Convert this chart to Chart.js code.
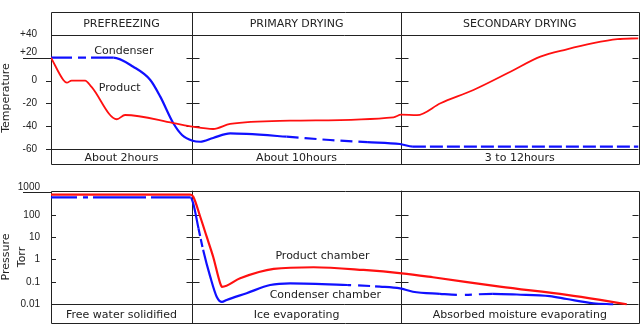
<!DOCTYPE html>
<html>
<head>
<meta charset="utf-8">
<script src="https://cdn.jsdelivr.net/npm/chart.js@4/dist/chart.umd.min.js"></script>
<style>
    html, body { margin: 0; padding: 0; background: #fff; }
    #wrap { position: relative; width: 640px; height: 336px; }
    canvas { position: absolute; left: 0; }
    #graficoTemp { top: 0; }
    #graficoPres { top: 168px; }
</style>
</head>
<body>
<div id="wrap">
    <canvas id="graficoTemp" width="640" height="168"></canvas>
    <canvas id="graficoPres" width="640" height="168"></canvas>
</div>
<script>
// time runs 0..100 over the whole cycle, phase limits
const phaseLimits = [0, 24, 59.6, 100];
const phaseNames = ['PREFREEZING', 'PRIMARY DRYING', 'SECONDARY DRYING'];
const phaseTimes = ['About 2hours', 'About 10hours', '3 to 12hours'];
const phaseNotes = ['Free water solidified', 'Ice evaporating', 'Absorbed moisture evaporating'];

const tempTicks = [-60, -40, -20, 0, 20, 40];
const tempTickLabels = ['-60', '-40', '-20', '0', '+20', '+40'];
const presTicks = [0.01, 0.1, 1, 10, 100, 1000];
const presTickLabels = ['0.01', '0.1', '1', '10', '100', '1000'];

// temperature (deg C)
const productX = [0, 2.1, 2.7, 3.5, 5.8, 6.9, 11.2, 12.6, 20.8, 24.1, 27.6, 30.5, 40.7, 58.3, 59.6, 62.3, 66.3, 71.9, 78.2, 83.3, 87.8, 92.3, 96.4, 100];
const productTemp = [20, 0.5, -1.9, 0, 0, -5.6, -33.7, -30, -37, -40.2, -42.2, -37.8, -35, -32, -29.7, -30.2, -19.8, -8.2, 7.7, 20.8, 27.2, 32.5, 36, 36.8];
const condenserX = [0, 10.6, 14, 16.9, 18.6, 20.8, 22.3, 24.1, 25.4, 27.6, 30.5, 33.3, 40.1, 47.5, 53.8, 59.4, 61.6, 100];
const condenserTemp = [20, 20, 12, 0.5, -14, -37, -47.4, -52.4, -53.3, -50, -46, -46.5, -48.9, -51.8, -53.6, -55.3, -57.6, -57.6];

// pressure (Torr)
const chamberX = [0, 23.7, 24.2, 25.4, 26.5, 27.6, 28.8, 29.1, 32.2, 37.9, 44.7, 53.2, 59.7, 65, 76.4, 87.8, 93.5, 98];
const chamberPres = [800, 800, 650, 82, 10.5, 1.33, 0.086, 0.06, 0.145, 0.38, 0.45, 0.34, 0.24, 0.16, 0.061, 0.026, 0.0155, 0.0099];
const condChamberX = [0, 23.7, 24.2, 25.1, 25.9, 27.1, 28.2, 29.1, 29.9, 33.3, 37.3, 40.7, 50.4, 56, 59.4, 61.6, 66.2, 69.6, 75.2, 79.3, 84.9, 87.8, 92.3, 95.7];
const condChamberPres = [600, 600, 328, 25, 2.66, 0.17, 0.0216, 0.0126, 0.0155, 0.031, 0.072, 0.086, 0.072, 0.061, 0.051, 0.036, 0.029, 0.026, 0.029, 0.027, 0.023, 0.017, 0.011, 0.0099];

const ink = '#222';
const red = '#ff1010';
const blue = '#1010ff';
const textFont = '11px "DejaVu Sans"';

function pts(xs, ys) {
    return xs.map((x, i) => ({ x: x, y: ys[i] }));
}

// broken-line look of the condenser curves, by time range
function dashes(spans) {
    return ctx => {
        const x = ctx.p0.parsed.x;
        for (const s of spans) {
            if (x >= s[0] && x < s[1]) return s[2];
        }
        return [];
    };
}

function frame(cfg) {
    return {
        id: 'frame' + cfg.name,
        beforeDatasetsDraw(chart) {
            const { ctx, chartArea: a, scales: { x, y } } = chart;
            const r = v => Math.round(v) + 0.5;
            const dividers = phaseLimits.slice(1, -1).map(p => r(x.getPixelForValue(p)));
            ctx.save();
            ctx.strokeStyle = ink;
            ctx.lineWidth = 1;
            ctx.beginPath();
            ctx.rect(r(a.left), r(a.top), Math.round(a.right) - Math.round(a.left), Math.round(a.bottom) - Math.round(a.top));
            cfg.rules.forEach(v => {
                const yy = r(y.getPixelForValue(v));
                ctx.moveTo(a.left, yy);
                ctx.lineTo(a.right, yy);
            });
            dividers.forEach(xx => {
                ctx.moveTo(xx, a.top);
                ctx.lineTo(xx, a.bottom);
            });
            cfg.marks.forEach(v => {
                const yy = r(y.getPixelForValue(v));
                dividers.forEach(xx => {
                    ctx.moveTo(xx - 6, yy);
                    ctx.lineTo(xx + 7, yy);
                });
                ctx.moveTo(a.right - 6, yy);
                ctx.lineTo(a.right, yy);
            });
            cfg.leftMarks.forEach(v => {
                const yy = r(y.getPixelForValue(v));
                ctx.moveTo(a.left + cfg.leftTick, yy);
                ctx.lineTo(a.left, yy);
            });
            const uy = r(y.getPixelForValue(cfg.underline));
            ctx.moveTo(a.left - 28, uy);
            ctx.lineTo(a.left, uy);
            ctx.stroke();

            ctx.fillStyle = ink;
            ctx.font = textFont;
            ctx.textAlign = 'center';
            ctx.textBaseline = 'middle';
            const cols = phaseLimits.slice(0, -1).map((p, i) =>
                (x.getPixelForValue(p) + x.getPixelForValue(phaseLimits[i + 1])) / 2);
            if (cfg.header) {
                const hy = (a.top + y.getPixelForValue(cfg.rules[0])) / 2 + 1;
                cfg.header.forEach((t, i) => ctx.fillText(t, cols[i], hy));
            }
            const fy = (y.getPixelForValue(cfg.rules[cfg.rules.length - 1]) + a.bottom) / 2 + 1;
            cfg.footer.forEach((t, i) => ctx.fillText(t, cols[i], fy));
            cfg.notes.forEach(n => ctx.fillText(n.text, x.getPixelForValue(n.x), y.getPixelForValue(n.y)));

            const ty = (a.top + a.bottom) / 2 + cfg.titleShift;
            cfg.title.forEach((t, i) => {
                ctx.save();
                ctx.translate(6 + i * 16, ty);
                ctx.rotate(-Math.PI / 2);
                ctx.fillText(t, 0, 0);
                ctx.restore();
            });
            ctx.restore();
        }
    };
}

function yAxis(extra) {
    return Object.assign({
        grid: { display: false },
        border: { display: false },
        afterFit: s => { s.width = 51; s.paddingTop = 0; s.paddingBottom = 0; }
    }, extra);
}

const common = {
    responsive: false,
    animation: false,
    devicePixelRatio: 1,
    events: [],
    plugins: { legend: { display: false }, tooltip: { enabled: false } },
    elements: { point: { radius: 0 }, line: { cubicInterpolationMode: 'monotone' } }
};

let ctx = document.getElementById('graficoTemp').getContext('2d');
const graficoTemp = new Chart(ctx, {
    type: 'line',
    data: {
        datasets: [{
            label: 'Product',
            data: pts(productX, productTemp),
            borderColor: red,
            borderWidth: 1.8
        }, {
            label: 'Condenser',
            data: pts(condenserX, condenserTemp),
            borderColor: blue,
            borderWidth: 2.2,
            segment: {
                borderDash: dashes([[0, 10.6, [21, 6, 8, 5, 100, 0]], [40.1, 53.8, [12, 6]], [61.6, 101, [13, 4]]])
            }
        }]
    },
    options: Object.assign({}, common, {
        layout: { padding: { top: 12, bottom: 4, left: 0, right: 1.5 } },
        scales: {
            x: { type: 'linear', min: 0, max: 100, display: false },
            y: yAxis({
                type: 'linear',
                min: -72.7,
                max: 59.7,
                afterBuildTicks: s => { s.ticks = tempTicks.map(v => ({ value: v })); },
                ticks: {
                    padding: 6,
                    color: ink,
                    font: { family: 'Liberation Sans', size: 10, lineHeight: 1 },
                    callback: (v, i) => v === 20 ? [tempTickLabels[i], ''] : tempTickLabels[i]
                }
            })
        }
    }),
    plugins: [frame({
        name: 'Temp',
        rules: [40, -60],
        marks: [20, 0, -20, -40],
        leftMarks: [0, -20, -40, -60],
        leftTick: -5,
        underline: 20,
        header: phaseNames,
        footer: phaseTimes,
        notes: [{ text: 'Condenser', x: 12.4, y: 25.7 }, { text: 'Product', x: 11.7, y: -6.3 }],
        title: ['Temperature'],
        titleShift: 10
    })]
});

ctx = document.getElementById('graficoPres').getContext('2d');
const graficoPres = new Chart(ctx, {
    type: 'line',
    data: {
        datasets: [{
            label: 'Product chamber',
            data: pts(chamberX, chamberPres),
            borderColor: red,
            borderWidth: 2.2
        }, {
            label: 'Condenser chamber',
            data: pts(condChamberX, condChamberPres),
            borderColor: blue,
            borderWidth: 2.2,
            segment: {
                borderDash: dashes([[0, 23.7, [26, 6, 5, 5, 53, 5, 60, 0]], [25.1, 25.9, [8, 3]], [50.4, 56, [4, 7, 12, 5, 40, 0]], [66.2, 75.2, [17, 8, 7, 7, 100, 0]]])
            }
        }]
    },
    options: Object.assign({}, common, {
        layout: { padding: { top: 22.7, bottom: 12.7, left: 0, right: 1.5 } },
        scales: {
            x: { type: 'linear', min: 0, max: 100, display: false },
            y: yAxis({
                type: 'logarithmic',
                min: 0.00139,
                max: 1202,
                afterBuildTicks: s => { s.ticks = presTicks.map(v => ({ value: v })); },
                ticks: {
                    padding: 3,
                    color: ink,
                    font: { family: 'Liberation Sans', size: 10, lineHeight: 1 },
                    callback: (v, i) => v === 1000 ? [presTickLabels[i], ''] : presTickLabels[i]
                }
            })
        }
    }),
    plugins: [frame({
        name: 'Pres',
        rules: [0.01],
        marks: [100, 10, 1, 0.1],
        leftMarks: [100, 10, 1, 0.1],
        leftTick: 5,
        underline: 1000,
        header: null,
        footer: phaseNotes,
        notes: [{ text: 'Product chamber', x: 46.2, y: 1.44 }, { text: 'Condenser chamber', x: 46.7, y: 0.0266 }],
        title: ['Pressure', 'Torr'],
        titleShift: 0
    })]
});
</script>
</body>
</html>
